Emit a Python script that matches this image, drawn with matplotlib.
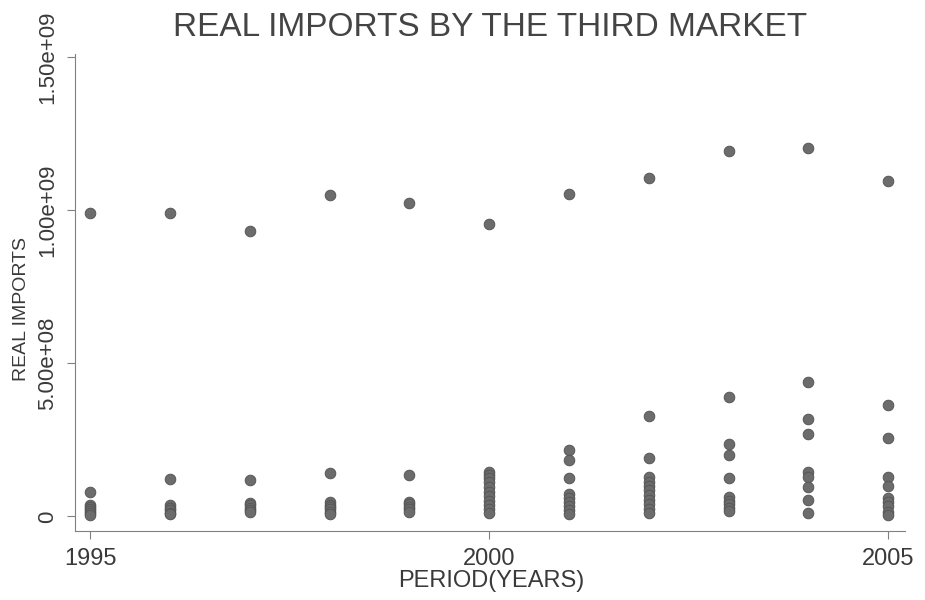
import matplotlib
matplotlib.use("Agg")
import matplotlib.pyplot as plt

plt.rcParams["font.family"] = ["Liberation Sans", "DejaVu Sans"]

# Reporting years
years = [1995, 1996, 1997, 1998, 1999, 2000, 2001, 2002, 2003, 2004, 2005]

# Largest importing country, real imports per year
largest = [0.991e9, 0.993e9, 0.934e9, 1.051e9, 1.023e9, 0.956e9,
           1.055e9, 1.107e9, 1.194e9, 1.203e9, 1.097e9]

# Remaining importing countries, real imports per year
others_1995 = [7.9e7, 3.9e7, 3.2e7, 2.5e7, 1.8e7, 1.1e7, 0.6e7]
others_1996 = [1.22e8, 3.6e7, 2.8e7, 2.0e7, 1.3e7, 0.7e7]
others_1997 = [1.20e8, 4.4e7, 3.6e7, 2.8e7, 2.1e7, 1.4e7]
others_1998 = [1.41e8, 4.7e7, 3.9e7, 3.1e7, 2.3e7, 1.5e7, 0.8e7]
others_1999 = [1.36e8, 4.8e7, 4.0e7, 3.2e7, 2.4e7, 1.6e7]
others_2000 = [1.46e8, 1.36e8, 1.25e8, 1.12e8, 9.5e7, 8.0e7, 6.6e7,
               5.2e7, 3.8e7, 2.4e7, 1.0e7]
others_2001 = [2.17e8, 1.85e8, 1.25e8, 7.5e7, 6.2e7, 4.8e7, 3.4e7,
               2.1e7, 0.9e7]
others_2002 = [3.29e8, 1.90e8, 1.30e8, 1.14e8, 1.00e8, 8.5e7, 7.0e7,
               5.5e7, 4.0e7, 2.6e7, 1.3e7]
others_2003 = [3.92e8, 2.36e8, 2.01e8, 1.26e8, 6.5e7, 5.2e7, 4.0e7,
               2.8e7, 1.7e7]
others_2004 = [4.38e8, 3.18e8, 2.69e8, 1.45e8, 1.30e8, 9.7e7, 5.4e7, 1.0e7]
others_2005 = [3.63e8, 2.55e8, 1.30e8, 1.00e8, 6.0e7, 4.6e7, 3.3e7,
               1.5e7, 0.5e7]

others = [others_1995, others_1996, others_1997, others_1998, others_1999,
          others_2000, others_2001, others_2002, others_2003, others_2004,
          others_2005]

# Axis ticks and labels
x_ticks = [1995, 2000, 2005]
y_ticks = [0, 5e8, 1e9, 1.5e9]
y_tick_labels = ["0", "5.00e+08", "1.00e+09", "1.50e+09"]

# Flatten into one point list
xs = list(years)
ys = list(largest)
for yr, vals in zip(years, others):
    xs.extend([yr] * len(vals))
    ys.extend(vals)

fig = plt.figure(figsize=(9.25, 6.0), dpi=100)
ax = fig.add_axes([75 / 925, 0.115, 830 / 925, 0.795])

ax.scatter(xs, ys, s=58, color="#6c6c6c", edgecolor="#565656",
           linewidth=0.7, zorder=3)

ax.set_xlim(1994.81, 2005.21)
ax.set_ylim(-0.0474e9, 1.511e9)

ax.set_xticks(x_ticks)
ax.set_xticklabels([str(t) for t in x_ticks])
ax.set_yticks(y_ticks)
ax.set_yticklabels(y_tick_labels, rotation=90, va="center")

axis_color = "#808080"
text_color = "#3a3a3a"
for side in ("top", "right"):
    ax.spines[side].set_visible(False)
for side in ("left", "bottom"):
    ax.spines[side].set_color(axis_color)
    ax.spines[side].set_linewidth(0.8)

ax.tick_params(axis="x", direction="out", length=6, width=0.8,
               color=axis_color, labelsize=17, labelcolor=text_color, pad=6)
ax.tick_params(axis="y", direction="out", length=6, width=0.8,
               color=axis_color, labelsize=16, labelcolor=text_color, pad=6)

ax.set_xlabel("PERIOD(YEARS)", fontsize=17, color=text_color)
ax.xaxis.set_label_coords(0.501, -0.105)
ax.xaxis.label.set_va("center")

ax.set_ylabel("REAL IMPORTS", fontsize=14, color=text_color)
ax.yaxis.set_label_coords(-0.064, 0.465)
ax.yaxis.label.set_va("center")

fig.text(490 / 925, 1 - 27 / 600, "REAL IMPORTS BY THE THIRD MARKET",
         ha="center", va="center", fontsize=24, color="#444444")

fig.savefig("out.png", dpi=100, facecolor="white")
